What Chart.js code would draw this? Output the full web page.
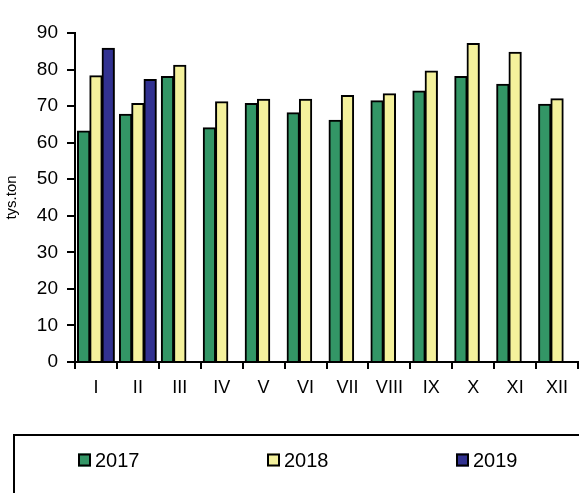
<!DOCTYPE html>
<html>
<head>
<meta charset="utf-8">
<script src="https://cdn.jsdelivr.net/npm/chart.js@4"></script>
<style>
    html, body { margin: 0; padding: 0; background: #fff; }
    #wrap { width: 579px; height: 493px; }
</style>
</head>
<body>
<div id="wrap"><canvas id="tons"></canvas></div>
<script>
const MONTHS = ['I', 'II', 'III', 'IV', 'V', 'VI', 'VII', 'VIII', 'IX', 'X', 'XI', 'XII'];
const YEARS = ['2017', '2018', '2019'];

const V2017 = [63.2, 67.8, 78.1, 64.1, 70.7, 68.2, 66.1, 71.5, 74.1, 78.1, 76.0, 70.5];
const V2018 = [78.3, 70.7, 81.2, 71.2, 71.9, 71.9, 72.9, 73.4, 79.6, 87.1, 84.7, 72.0];
const V2019 = [85.8, 77.3, null, null, null, null, null, null, null, null, null, null];

const COLORS = ['rgb(51, 150, 102)', 'rgb(244, 241, 156)', 'rgb(50, 50, 145)'];
const FONT = 'Arial, "Liberation Sans", sans-serif';

// boxed legend along the bottom, built from the datasets
const boxLegend = {
    id: 'boxLegend',
    afterDraw(chart) {
        const ctx = chart.ctx;
        ctx.save();
        ctx.strokeStyle = '#000';
        ctx.lineWidth = 2;
        ctx.strokeRect(14, 435, 600, 100);

        ctx.font = '20px ' + FONT;
        ctx.textBaseline = 'middle';
        ctx.textAlign = 'left';
        chart.data.datasets.forEach(function (ds, i) {
            const x = 78 + i * 189;
            const y = 460;
            ctx.fillStyle = ds.backgroundColor;
            ctx.fillRect(x, y - 6.5, 13, 13);
            ctx.lineWidth = 2;
            ctx.strokeRect(x + 1, y - 5.5, 11, 11);
            ctx.fillStyle = '#000';
            ctx.fillText(ds.label, x + 17, y + 1);
        });
        ctx.restore();
    }
};

const sets = [V2017, V2018, V2019].map(function (vals, i) {
    return {
        label: YEARS[i],
        data: vals,
        backgroundColor: COLORS[i],
        borderColor: '#000',
        borderWidth: 2,
        borderSkipped: 'bottom',
        inflateAmount: 0.5,
        categoryPercentage: 0.88,
        barPercentage: 1.0
    };
});

new Chart(document.getElementById('tons').getContext('2d'), {
    type: 'bar',
    data: { labels: MONTHS, datasets: sets },
    plugins: [boxLegend],
    options: {
        responsive: true,
        maintainAspectRatio: false,
        animation: false,
        layout: { padding: { top: 33, right: 1, left: 0, bottom: 0 } },
        plugins: {
            legend: { display: false },
            tooltip: { enabled: false }
        },
        scales: {
            x: {
                afterFit(scale) { scale.height = 131; },
                grid: {
                    offset: true,
                    drawOnChartArea: false,
                    tickLength: 7,
                    color: '#000',
                    lineWidth: 2
                },
                border: { color: '#000', width: 2 },
                ticks: {
                    color: '#000',
                    font: { family: FONT, size: 18 },
                    padding: 8,
                    maxRotation: 0,
                    autoSkip: false
                }
            },
            y: {
                min: 0,
                max: 90,
                afterFit(scale) { scale.width = 75; },
                grid: {
                    drawOnChartArea: false,
                    tickLength: 8,
                    color: '#000',
                    lineWidth: 2
                },
                border: { color: '#000', width: 2 },
                ticks: {
                    stepSize: 10,
                    color: '#000',
                    font: { family: FONT, size: 19 },
                    padding: 9
                },
                title: {
                    display: true,
                    text: 'tys.ton',
                    color: '#000',
                    font: { family: FONT, size: 15 },
                    padding: 3
                }
            }
        }
    }
});
</script>
</body>
</html>
